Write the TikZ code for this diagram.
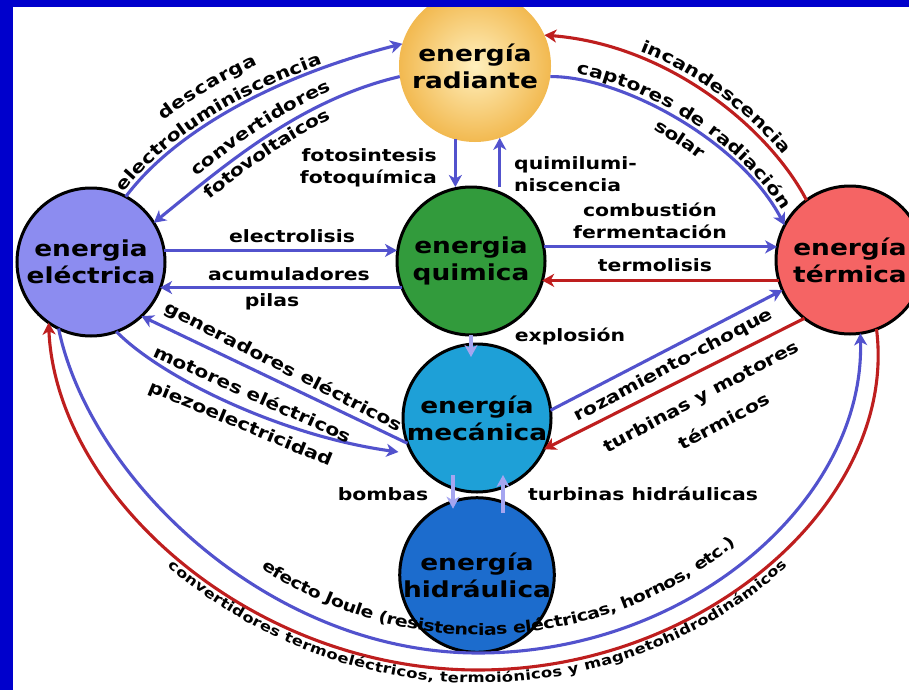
\documentclass[tikz,border=0pt]{standalone}
\usepackage{fontspec}
\usetikzlibrary{arrows.meta,decorations.text,calc}
\newfontfamily\labfont[FakeStretch=1.2]{DejaVu Sans Bold}
\newcommand\lbl{\labfont\fontsize{17}{22}\selectfont}
\newcommand\cirf{\labfont\fontsize{22}{27}\selectfont}
\newcommand\joulefont{\labfont\fontsize{15.8}{18}\selectfont}
\newcommand\convfont{\labfont\fontsize{13.7}{17}\selectfont}
\definecolor{bandblue}{RGB}{0,0,204}
\definecolor{arrowblue}{RGB}{82,82,205}
\definecolor{arrowred}{RGB}{190,30,30}
\definecolor{arrowlight}{RGB}{165,165,240}
\definecolor{radin}{RGB}{255,240,190}
\definecolor{radout}{RGB}{242,185,80}
\definecolor{quifill}{RGB}{50,155,60}
\definecolor{mecfill}{RGB}{30,160,215}
\definecolor{hidfill}{RGB}{28,108,205}
\definecolor{elefill}{RGB}{140,140,240}
\definecolor{terfill}{RGB}{245,100,100}
\begin{document}
\begin{tikzpicture}[x=1pt,y=-1pt,
  energy/.style={circle, draw=black, line width=3pt, inner sep=0pt, outer sep=0pt, align=center, font=\cirf},
  conn/.style={line width=3.1pt, -{Stealth[length=12pt,width=13pt,inset=3.5pt]}},
  blueconn/.style={conn, draw=arrowblue},
  redconn/.style={conn, draw=arrowred},
  lightconn/.style={conn, draw=arrowlight},
  lab/.style={font=\lbl, inner sep=0pt, text height=12pt, text depth=3.5pt},
  lab2/.style={font=\lbl, inner sep=0pt},
]
\useasboundingbox (0,0) rectangle (909,690);
\clip (0,0) rectangle (909,690);
\fill[white] (0,0) rectangle (909,690);

% energy forms
\node[energy, minimum size=152pt, draw=none, inner color=radin, outer color=radout] (rad) at (475,66) {energía\\radiante};
\node[energy, minimum size=148pt, fill=quifill] (qui) at (471,261) {energia\\quimica};
\node[energy, minimum size=148pt, fill=mecfill] (mec) at (477,418) {energía\\mecánica};
\node[energy, minimum size=146pt, fill=hidfill] (hid) at (477,575) {energía\\hidráulica};
\node[energy, minimum size=148pt, fill=elefill] (ele) at (91,262) {energia\\eléctrica};
\node[energy, minimum size=148pt, fill=terfill] (ter) at (850,260) {energía\\térmica};

% transformations
\draw[blueconn] (ele.62) .. controls (172,135) and (268,78) .. (rad.163);
\draw[blueconn] (rad.188) .. controls (300,100) and (225,165) .. (ele.32);
\draw[redconn] (ter.126) .. controls (770,130) and (670,45) .. (rad.24);
\draw[blueconn] (rad.352) .. controls (620,76) and (740,140) .. (ter.152);
\draw[blueconn] (rad.255) -- (rad.255 |- qui.north);
\draw[blueconn] (rad.289 |- qui.north) -- (rad.289);
\draw[blueconn] (ele.9) -- (ele.9 -| qui.west);
\draw[blueconn] (qui.201) -- (qui.201 -| ele.339);
\draw[blueconn] (qui.11) -- (qui.11 -| ter.170);
\draw[redconn] (ter.196) -- (ter.196 -| qui.344);
\draw[blueconn] (mec.200) -- (ele.313);
\draw[blueconn, shorten >=14pt] (ele.290) .. controls (162,378) and (282,436) .. (mec.209);
\draw[blueconn] (mec.6) -- (ter.204);
\draw[redconn] (ter.232) -- (mec.335);
\draw[blueconn] (ele.244) .. controls (90,480) and (270,653) .. (478,653) .. controls (690,653) and (865,500) .. (ter.278);
\draw[redconn] (ter.291) .. controls (898,500) and (706,670) .. (478,670) .. controls (250,670) and (56,495) .. (ele.235);
\draw[lightconn] (qui.south) -- ($(qui.south |- mec.north)+(0,13)$);
\draw[lightconn] ($(mec.south)+(-24,-17)$) -- ($(hid.north)+(-24,11)$);
\draw[lightconn] ($(hid.north)+(26,15)$) -- ($(mec.south)+(26,-17)$);

% labels along curved transformations
\path[decorate, decoration={text along path, raise=4pt, text align={left, left indent=2pt}, text={|\lbl|electroluminiscencia}}]
  (ele.62) .. controls (172,135) and (268,78) .. (rad.163);
\path[decorate, decoration={text along path, raise=28pt, text align={left, left indent=76pt}, text={|\lbl|descarga}}]
  (ele.62) .. controls (172,135) and (268,78) .. (rad.163);
\path[decorate, decoration={text along path, raise=9pt, text align={left, left indent=62pt}, text={|\lbl|convertidores}}]
  (ele.32) .. controls (225,165) and (300,100) .. (rad.188);
\path[decorate, decoration={text along path, raise=-17pt, text align={left, left indent=58pt}, text={|\lbl|fotovoltaicos}}]
  (ele.32) .. controls (225,165) and (300,100) .. (rad.188);
\path[decorate, decoration={text along path, raise=6pt, text align={left, left indent=96pt}, text={|\lbl|incandescencia}}]
  (rad.24) .. controls (670,45) and (770,130) .. (ter.126);
\path[decorate, decoration={text along path, raise=5pt, text align={left, left indent=25pt}, text={|\lbl|captores de radiación}}]
  (rad.352) .. controls (620,76) and (740,140) .. (ter.152);
\path[decorate, decoration={text along path, raise=-21pt, text align={left, left indent=120pt}, text={|\lbl|solar}}]
  (rad.352) .. controls (620,76) and (740,140) .. (ter.152);
\path[decorate, decoration={text along path, raise=18pt, text align={left, left indent=328pt}, text={|\joulefont|efecto Joule (resistencias eléctricas, hornos, etc.)}}]
  (ele.244) .. controls (90,480) and (270,653) .. (478,653) .. controls (690,653) and (865,500) .. (ter.278);
\path[decorate, decoration={text along path, raise=-13pt, text align={left, left indent=274pt}, text={|\convfont|convertidores termoeléctricos, termoiónicos y magnetohidrodinámicos}}]
  (ele.235) .. controls (56,495) and (250,670) .. (478,670) .. controls (706,670) and (898,500) .. (ter.291);

% labels of straight transformations
\node[lab2, anchor=east, align=right] (lfoto) at (437,168) {fotosintesis\\fotoquímica};
\node[lab2, anchor=west, align=left] (lquimi) at (514,174) {quimilumi-\\niscencia};
\node[lab] (lelec) at (292,238) {electrolisis};
\node[lab] (lacum) at (289,276) {acumuladores};
\node[lab] (lpilas) at (272,302) {pilas};
\node[lab] (lcomb) at (650,212) {combustión};
\node[lab] (lferm) at (650,234) {fermentación};
\node[lab] (lterm) at (655,267) {termolisis};
\node[lab] (lexpl) at (570,337) {explosión};
\node[lab] (lbomb) at (383,496) {bombas};
\node[lab] (lturbh) at (643,496) {turbinas hidráulicas};
\node[lab, rotate=-27] (lgen) at (283,368) {generadores eléctricos};
\node[lab, rotate=-24] (lmot) at (252,396) {motores eléctricos};
\node[lab, rotate=-22.4] (lpiezo) at (240,425) {piezoelectricidad};
\node[lab, rotate=28] (lroz) at (674,366) {rozamiento-choque};
\node[lab, rotate=28] (lturbm) at (702,398) {turbinas y motores};
\node[lab, rotate=28] (lterm2) at (725,423) {térmicos};

% frame
\fill[bandblue] (0,0) rectangle (13,690);
\fill[bandblue] (0,0) rectangle (909,7);
\end{tikzpicture}
\end{document}
